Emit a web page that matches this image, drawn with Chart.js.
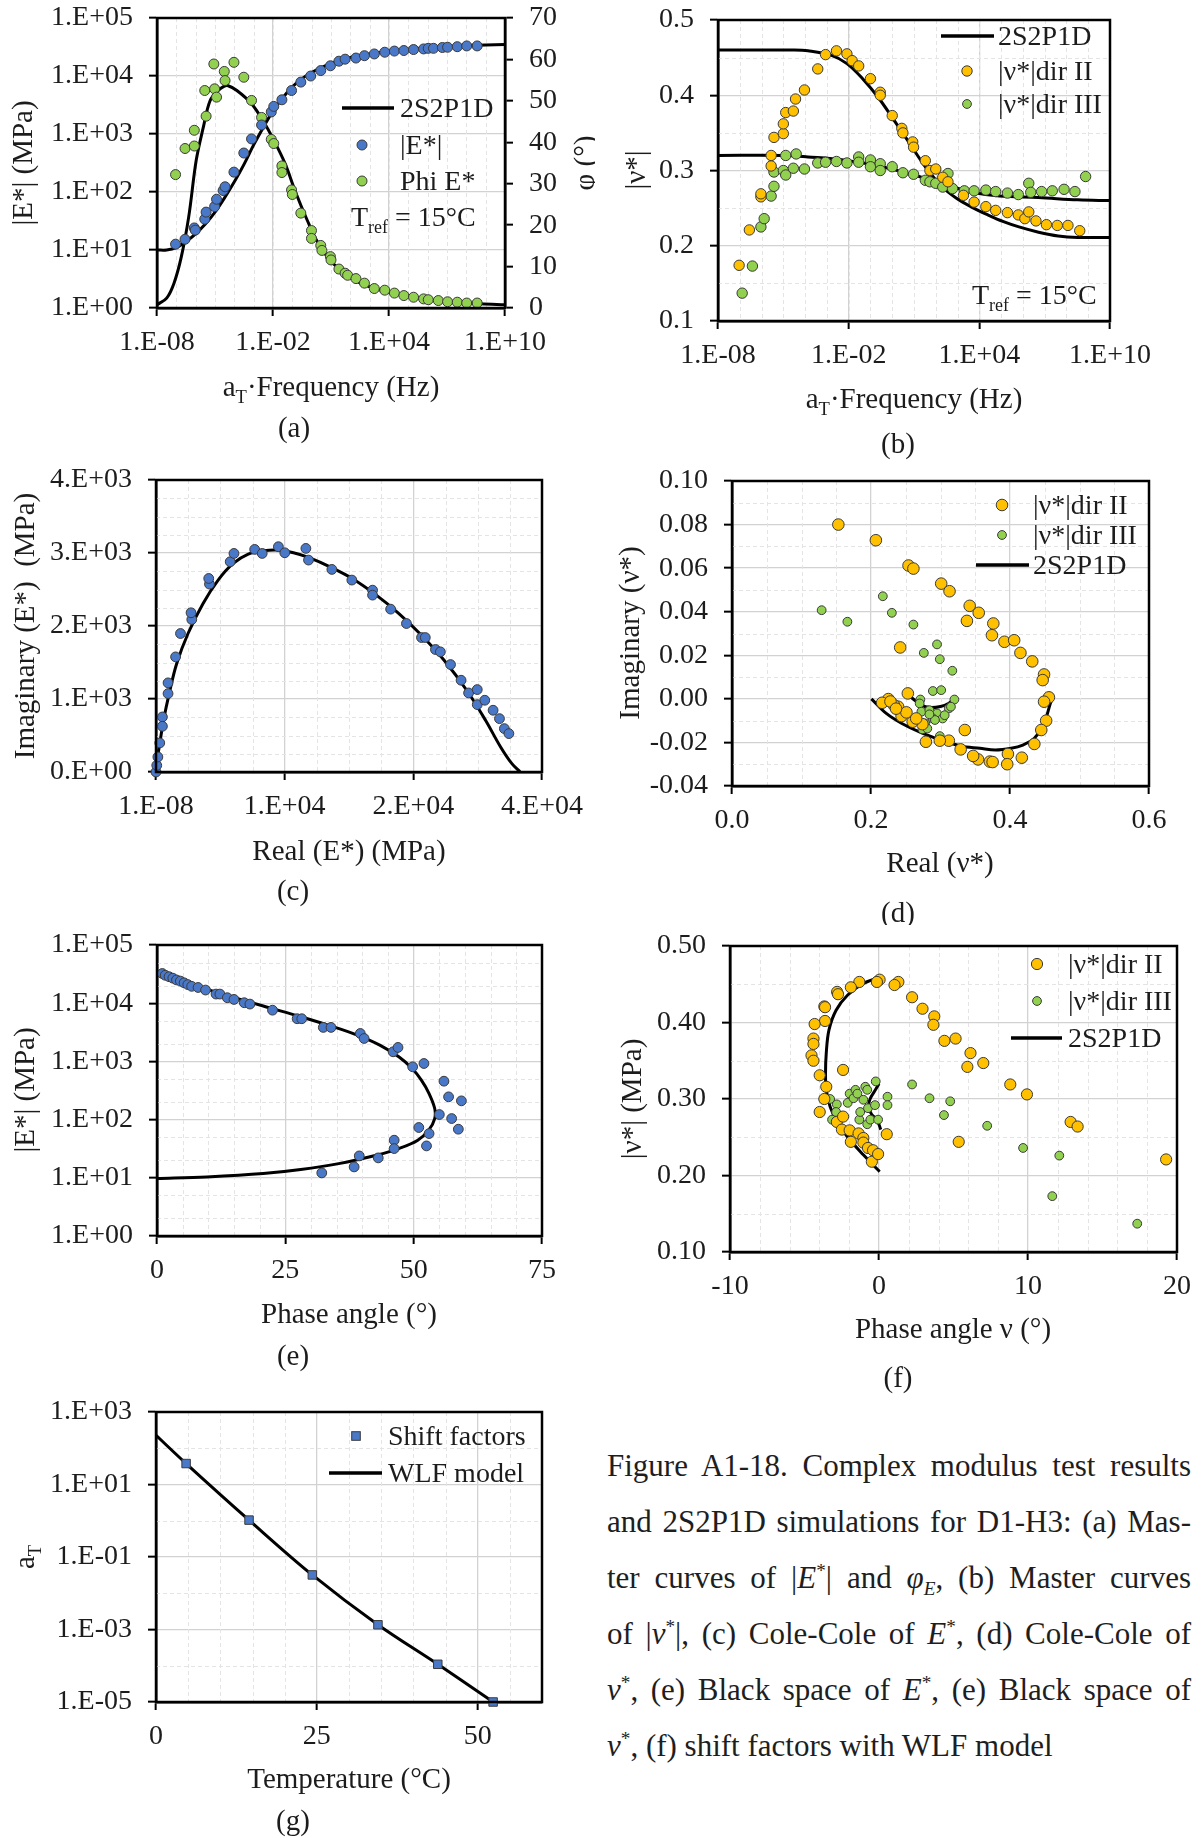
<!DOCTYPE html>
<html>
<head>
<meta charset="utf-8">
<title>Complex modulus test results – D1-H3</title>
<script src="https://cdn.jsdelivr.net/npm/chart.js@4.4.1/dist/chart.umd.min.js"></script>
<style>
  html, body { margin: 0; padding: 0; background: #fff; }
  body { width: 1202px; height: 1838px; position: relative; overflow: hidden;
         font-family: "Liberation Serif", "Times New Roman", serif; }
  canvas.panel { position: absolute; }
  #caption { position: absolute; left: 607px; top: 1438px; width: 584px;
             font-size: 31px; line-height: 56px; color: #1e1e1e; }
  #caption .j { text-align: justify; text-align-last: justify; }
  #caption sup, #caption sub { font-size: 62%; line-height: 0; }
</style>
</head>
<body>
<canvas id="pa" class="panel"></canvas>
<canvas id="pb" class="panel"></canvas>
<canvas id="pc" class="panel"></canvas>
<canvas id="pd" class="panel"></canvas>
<canvas id="pe" class="panel"></canvas>
<canvas id="pf" class="panel"></canvas>
<canvas id="pg" class="panel"></canvas>

<div id="caption">
  <div class="j">Figure A1-18. Complex modulus test results</div>
  <div class="j">and 2S2P1D simulations for D1-H3: (a) Mas-</div>
  <div class="j">ter curves of |<i>E</i><sup>*</sup>| and <i>φ<sub>E</sub></i>, (b) Master curves</div>
  <div class="j">of |<i>ν</i><sup>*</sup>|, (c) Cole-Cole of <i>E</i><sup>*</sup>, (d) Cole-Cole of</div>
  <div class="j"><i>ν</i><sup>*</sup>, (e) Black space of <i>E</i><sup>*</sup>, (e) Black space of</div>
  <div><i>ν</i><sup>*</sup>, (f) shift factors with WLF model</div>
</div>

<script>
// ---------------- data ----------------
// (a) master curves: frequencies stored as log10(aT·f)
const aModFreqExp = [-7.04,-6.55,-6.07,-6.02,-5.53,-5.46,-5.02,-4.92,-4.58,-4.48,-4.02,-3.51,-3.11,-2.59,-2.09,-1.96,-1.54,-1.04,-0.56,-0.05,0.47,0.97,1.41,1.73,2.29,2.73,3.24,3.78,4.28,4.77,5.27,5.79,6.03,6.30,6.76,7.03,7.53,8.02,8.56];
const aModVal = [12.6,15.3,24,22,34,45,56,75,106,123,220,470,822,1430,2400,2990,3890,5620,7850,10000,12400,15000,18000,19500,20400,22400,24000,25700,26900,27500,28600,29300,30000,30000,31000,31300,32000,33000,33000];
const aPhiFreqExp = [-7.04,-6.55,-6.07,-6.07,-5.46,-5.53,-5.02,-4.92,-5.06,-4.52,-4.48,-4.02,-3.51,-3.11,-2.59,-2.09,-1.96,-1.54,-1.54,-1.04,-1.0,-0.56,-0.01,-0.01,0.47,0.53,0.97,1.0,1.41,1.73,1.86,2.29,2.73,3.24,3.78,4.28,4.77,5.27,5.79,6.03,6.55,7.03,7.53,8.02,8.56];
const aPhiVal = [32.2,38.5,39.1,42.9,46.3,52.5,52.9,50.9,58.9,57.1,54.9,59.3,55.7,50.1,46.0,40.7,39.7,34.3,32.7,28.5,27.4,22.9,18.7,16.8,15.1,13.9,12.4,11.6,9.4,8.4,7.9,7.1,6.0,4.7,4.3,3.6,3.0,2.6,2.2,2.0,1.8,1.5,1.4,1.2,1.2];
const aFitFreqExp = [-8,-7.5,-7,-6.5,-6,-5.5,-5,-4.5,-4,-3.5,-3,-2.5,-2,-1.5,-1,-0.5,0,0.5,1,1.5,2,3,4,5,6,7,8,9,10];
const aFitMod = [10,10,11,14,19,28,45,80,150,300,650,1300,2500,4200,6500,9000,11500,14000,16500,18800,20800,24000,26800,29000,30800,32200,33400,34300,35000];
const aFitPhiFreqExp = [-8,-7.5,-7.12,-6.74,-6.36,-5.97,-5.6,-5.25,-4.83,-4.54,-4.35,-3.87,-3.11,-2.53,-1.96,-1.38,-0.81,-0.24,0.34,1.1,2.06,3.01,4.93,6.84,8.75,10];
const aFitPhi = [0.8,2.4,6,12.4,22,35.7,43.7,50.1,52.5,53.5,53.7,52.5,49.3,45.3,40.5,34.9,27.7,21.3,15.6,10.8,7.2,5.1,2.8,1.6,1.0,0.8];

// (b) master curves of |ν*|
const bDir2FreqExp = [-7.03,-6.56,-6.03,-6.03,-5.56,-5.56,-5.43,-5.0,-5.0,-4.89,-4.54,-4.44,-4.03,-3.42,-3.06,-2.56,-2.08,-1.84,-1.54,-1.0,-0.55,-0.55,0.0,0.44,0.49,0.94,0.98,1.52,1.73,2.0,2.32,2.56,3.27,3.76,4.3,4.75,5.29,5.79,6.09,6.27,6.6,7.08,7.58,8.07,8.61];
const bDir2Val = [0.174,0.221,0.265,0.269,0.320,0.306,0.344,0.349,0.362,0.377,0.379,0.395,0.407,0.435,0.454,0.459,0.455,0.446,0.439,0.422,0.404,0.400,0.373,0.356,0.350,0.338,0.331,0.313,0.300,0.302,0.291,0.285,0.267,0.258,0.252,0.247,0.244,0.241,0.236,0.245,0.233,0.228,0.227,0.227,0.220];
const bDir3FreqExp = [-6.89,-6.42,-6.03,-5.88,-5.56,-5.43,-5.43,-5.0,-4.89,-4.89,-4.54,-4.41,-4.03,-3.42,-3.06,-2.56,-2.08,-1.54,-1.54,-1.0,-1.0,-0.55,-0.55,0.0,0.49,0.98,1.52,1.73,2.0,2.32,2.56,2.77,3.31,3.76,4.3,4.75,5.29,5.79,6.27,6.36,6.86,7.35,7.89,8.39,8.88];
const bDir3Val = [0.137,0.173,0.225,0.236,0.266,0.279,0.298,0.300,0.294,0.320,0.303,0.322,0.302,0.310,0.311,0.312,0.310,0.318,0.311,0.314,0.305,0.309,0.300,0.305,0.297,0.295,0.287,0.285,0.283,0.278,0.296,0.276,0.273,0.273,0.274,0.272,0.270,0.268,0.283,0.271,0.272,0.273,0.275,0.272,0.292];
const bFit2FreqExp = [-8,-4.5,-3.87,-2.79,-2.08,-1.36,-0.64,0.08,0.8,1.52,2.23,2.95,3.67,4.39,5.11,5.82,6.72,7.62,8.52,10];
const bFit2Val = [0.460,0.460,0.459,0.453,0.442,0.422,0.397,0.367,0.336,0.305,0.280,0.263,0.251,0.241,0.232,0.225,0.218,0.213,0.211,0.211];
const bFit3FreqExp = [-8,-5,-3.87,-2.25,-0.46,1.34,2.59,3.67,4.93,6.72,8.52,10];
const bFit3Val = [0.320,0.320,0.318,0.314,0.305,0.291,0.280,0.271,0.266,0.264,0.261,0.260];

// (c) Cole-Cole plane of E*
const cReal = [0,70,175,351,597,597,1124,1124,1826,2283,3337,3267,4988,4917,6920,7271,9202,9905,11415,12012,13979,14225,16403,18265,20197,20197,21883,23358,24763,25115,26063,26520,27468,28452,29154,29962,29962,30664,31437,32034,32491,32912];
const cImag = [0,91,206,398,754,626,1074,1221,1577,1897,2089,2181,2574,2651,2880,2994,3049,2994,3086,3003,3063,2903,2775,2629,2491,2423,2231,2034,1842,1842,1678,1646,1472,1257,1083,1129,923,983,846,731,594,526];
const cFitReal = [0,105,351,703,1229,1932,2986,4391,5795,7200,8605,10010,11415,12820,14225,16333,18440,20547,22655,24762,26870,28977,30733,32138,33192,33965];
const cFitImag = [0,160,389,709,1074,1486,1897,2309,2629,2857,2985,3031,3040,3003,2939,2802,2638,2423,2171,1874,1531,1120,709,343,114,0];
const cTickX = ['1.E-08','1.E+04','2.E+04','4.E+04'];
const cTickY = ['0.E+00','1.E+03','2.E+03','3.E+03','4.E+03'];

// (d) Cole-Cole plane of ν*
const dDir2Real = [0.153,0.207,0.254,0.261,0.301,0.313,0.342,0.338,0.355,0.376,0.374,0.392,0.406,0.415,0.432,0.449,0.447,0.456,0.449,0.452,0.445,0.435,0.417,0.397,0.396,0.371,0.375,0.354,0.347,0.329,0.312,0.299,0.279,0.335,0.274,0.260,0.244,0.239,0.233,0.225,0.216,0.253,0.242,0.251,0.265,0.228,0.236];
const dDir2Imag = [0.080,0.0728,0.0612,0.0598,0.0529,0.0494,0.0427,0.0358,0.0395,0.0346,0.0292,0.0262,0.0269,0.0211,0.0172,0.0112,0.0086,0.0007,-0.0013,-0.010,-0.0143,-0.0207,-0.027,-0.0253,-0.030,-0.0288,-0.029,-0.0278,-0.0262,-0.0232,-0.0192,-0.0192,-0.0197,-0.0143,-0.0116,-0.0105,-0.0079,-0.0036,-0.0029,-0.0001,-0.0018,0.0025,0.0236,-0.0062,-0.009,-0.0012,-0.0045];
const dDir3Real = [0.129,0.166,0.217,0.230,0.261,0.276,0.295,0.299,0.317,0.289,0.301,0.271,0.320,0.270,0.2725,0.284,0.295,0.303,0.312,0.315,0.289,0.278,0.274,0.281,0.292,0.299,0.306,0.284];
const dDir3Imag = [0.0407,0.0354,0.0471,0.0395,0.0341,0.0211,0.0250,0.0182,0.0129,0.0036,0.0040,-0.0003,-0.0003,-0.0021,-0.0059,-0.0052,-0.0067,-0.009,-0.0044,-0.0036,-0.009,-0.0113,-0.014,-0.0136,-0.0097,-0.0171,-0.0075,-0.0071];
const dFit2Real = [0.2006,0.222,0.2444,0.272,0.3006,0.3287,0.3567,0.379,0.4017,0.4185,0.435,0.449,0.458,0.4607];
const dFit2Imag = [0.0,-0.0067,-0.0113,-0.0155,-0.0189,-0.0216,-0.0227,-0.0235,-0.0227,-0.0212,-0.0181,-0.0113,-0.0021,0.0];
const dFit3Real = [0.257,0.264,0.272,0.285,0.300,0.312,0.320];
const dFit3Imag = [0.0009,-0.0009,-0.0029,-0.0040,-0.0035,-0.0020,0.0];

// (e) Black space of E*
const ePhase = [1.03,1.6,2.35,3.08,3.8,4.55,5.28,6.0,6.75,8.0,9.46,11.5,12.25,13.7,15.0,17.0,18.1,22.5,27.3,28.2,32.4,33.9,39.6,40.35,46.0,46.95,49.8,52.0,55.9,56.8,59.3,55.0,57.4,58.7,51.0,53.0,52.5,46.2,46.2,43.1,39.4,38.4,32.1];
const eModExp = [4.51,4.48,4.455,4.43,4.40,4.38,4.35,4.32,4.29,4.27,4.226,4.157,4.157,4.094,4.065,4.008,3.985,3.88,3.733,3.733,3.584,3.584,3.48,3.394,3.165,3.24,2.907,2.964,2.66,2.391,2.322,2.087,2.018,1.835,1.864,1.76,1.548,1.646,1.502,1.342,1.376,1.187,1.084];
const eFitPhase = [0,9.7,20.7,28,35.4,42.7,47.1,50.8,53,54.1,54.1,53,51.5,49.7,47.1,43.4,39,33.9,28,20.7,13.4,6,1,0];
const eFitModExp = [0.986,1.015,1.072,1.141,1.244,1.388,1.502,1.646,1.829,2.018,2.19,2.448,2.678,2.878,3.079,3.28,3.452,3.607,3.767,3.951,4.14,4.34,4.5,4.54];

// (f) Black space of ν*
const fDir2Phase = [0.04,-0.14,1.3,1.04,-1.32,-1.89,-2.81,-2.75,-3.67,-3.62,-3.62,-4.32,-4.40,-4.40,-4.53,-4.40,-3.98,-3.54,-3.67,-3.98,-2.41,-2.83,-2.41,-2.49,-1.97,-1.89,-1.37,-1.05,-1.05,-0.74,-0.4,-0.48,-0.06,0.52,2.22,2.92,3.71,3.65,4.39,5.14,6.14,5.93,7.0,8.81,9.93,5.35,12.86,13.33,19.27];
const fDir2Val = [0.456,0.453,0.453,0.449,0.453,0.446,0.440,0.437,0.421,0.420,0.402,0.398,0.379,0.372,0.357,0.350,0.331,0.316,0.300,0.283,0.338,0.270,0.277,0.260,0.259,0.244,0.255,0.249,0.243,0.236,0.233,0.218,0.228,0.254,0.433,0.418,0.408,0.397,0.376,0.379,0.360,0.342,0.347,0.319,0.306,0.244,0.270,0.264,0.221];
const fDir3Phase = [-3.28,-3.15,-2.83,-2.88,-2.1,-1.97,-1.71,-1.58,-1.45,-1.32,-1.26,-1.05,-0.92,-0.79,-0.74,-0.79,-0.58,-0.27,-0.22,-0.06,0.57,0.57,2.22,3.39,4.78,4.36,7.26,9.67,11.63,12.1,17.33];
const fDir3Val = [0.300,0.273,0.293,0.283,0.295,0.307,0.301,0.312,0.307,0.273,0.283,0.299,0.316,0.312,0.288,0.267,0.273,0.292,0.323,0.273,0.303,0.292,0.319,0.301,0.297,0.279,0.265,0.236,0.173,0.226,0.137];
const fFit2Phase = [0.04,-1.05,-2.1,-2.88,-3.36,-3.54,-3.59,-3.54,-3.28,-2.75,-1.97,-1.05,-0.4,0.04];
const fFit2Val = [0.459,0.451,0.436,0.416,0.390,0.360,0.333,0.312,0.290,0.268,0.247,0.227,0.214,0.205];
const fFit3Phase = [0.0,-0.3,-0.6,-0.7,-0.5,-0.14,0.12];
const fFit3Val = [0.320,0.310,0.300,0.290,0.280,0.273,0.260];

// (g) shift factors and WLF model
const gTemp = [4.68,14.46,24.3,34.5,43.8,52.4];
const gShiftExp = [1.578,0.018,-1.495,-2.87,-3.96,-5.0];
const gWlfTemp = [0,4.68,14.46,24.3,34.5,43.8,52.4];
const gWlfExp = [2.358,1.578,0.018,-1.495,-2.87,-3.96,-5.0];

// ---------------- styling helpers ----------------
const FONT = '"Liberation Serif", "Times New Roman", serif';
const INK = '#1c1c1c';
const GRID = '#d2d2d2';
const BLUE = '#4a78c8', GREEN = '#92d050', ORANGE = '#ffc000', EDGE = '#3a3a3a';
const TICK_SIZE = 28, TEXT_SIZE = 29, LEGEND_SIZE = 28;
const Y_AXIS_W = 110, X_AXIS_H = 55, R_AXIS_W = 60;

const pow10 = arr => arr.map(e => Math.pow(10, e));
const pts = (xs, ys) => xs.map((x, i) => ({ x, y: ys[i] }));
const sci = v => {
  const e = Math.round(Math.log10(v));
  return '1.E' + (e < 0 ? '-' : '+') + String(Math.abs(e)).padStart(2, '0');
};
const fixedTicks = vals => s => { s.ticks = vals.map(v => ({ value: v })); };

function markers(data, color, r, order = 1) {
  return { type: 'scatter', data, order, pointRadius: r, pointHoverRadius: r, clip: 8,
           backgroundColor: color, borderColor: EDGE, borderWidth: 1, showLine: false };
}
function curve(data, order = 2, width = 3) {
  return { type: 'scatter', data, order, showLine: true, pointRadius: 0, pointHoverRadius: 0,
           borderColor: '#000', borderWidth: width, tension: 0.35, fill: false };
}

function axis(position, opts = {}) {
  const horiz = position === 'bottom';
  const o = {
    position,
    grid: { color: GRID, lineWidth: 1.3, drawTicks: true, tickLength: 8, tickColor: '#000', tickWidth: 2,
            drawOnChartArea: opts.gridOnArea !== false },
    border: { display: true, color: '#000', width: 2.5 },
    ticks: { color: INK, font: { family: FONT, size: TICK_SIZE }, padding: horiz ? 10 : 16,
             maxRotation: 0, minRotation: 0, autoSkip: false },
    // fixed axis box; no extra edge padding so the plot area stays where the layout puts it
    afterFit: s => {
      if (horiz) s.height = X_AXIS_H; else s.width = position === 'right' ? R_AXIS_W : Y_AXIS_W;
      s.paddingTop = 0; s.paddingBottom = 0; s.paddingLeft = 0; s.paddingRight = 0;
    }
  };
  ['type', 'min', 'max', 'afterBuildTicks', 'weight'].forEach(k => { if (opts[k] !== undefined) o[k] = opts[k]; });
  if (opts.step !== undefined) o.ticks.stepSize = opts.step;
  if (opts.callback) o.ticks.callback = opts.callback;
  return o;
}

// rich text: runs of [text, style]; style may contain 'sub', 'sup', 'i'
function drawRich(ctx, runs, x, y, opt = {}) {
  const size = opt.size || TEXT_SIZE;
  ctx.save();
  ctx.translate(x, y);
  if (opt.rot) ctx.rotate(opt.rot);
  const parts = runs.map(r => {
    const [t, s = ''] = Array.isArray(r) ? r : [r, ''];
    const small = s.includes('sub') || s.includes('sup');
    const fs = small ? size * 0.64 : size;
    const font = (s.includes('i') ? 'italic ' : '') + fs + 'px ' + FONT;
    ctx.font = font;
    return { t, font, w: ctx.measureText(t).width,
             dy: s.includes('sub') ? size * 0.25 : s.includes('sup') ? -size * 0.35 : 0 };
  });
  const total = parts.reduce((a, p) => a + p.w, 0);
  let cx = opt.align === 'left' ? 0 : opt.align === 'right' ? -total : -total / 2;
  ctx.fillStyle = opt.color || INK;
  ctx.textBaseline = 'alphabetic';
  parts.forEach(p => { ctx.font = p.font; ctx.fillText(p.t, cx, size * 0.33 + p.dy); cx += p.w; });
  ctx.restore();
}

// frame, minor grid, titles and hand-placed legends
const decor = {
  id: 'decor',
  beforeDatasetsDraw(chart, args, cfg) {
    if (!cfg || !cfg.minor) return;
    const { ctx, chartArea: a } = chart;
    ctx.save();
    ctx.beginPath(); ctx.rect(a.left, a.top, a.right - a.left, a.bottom - a.top); ctx.clip();
    ctx.strokeStyle = '#e4e4e4'; ctx.lineWidth = 1; ctx.setLineDash([4, 3]);
    const xs = chart.scales.x, ys = chart.scales.y;
    (cfg.minor.x || []).forEach(v => {
      const px = Math.round(xs.getPixelForValue(v)) + 0.5;
      ctx.beginPath(); ctx.moveTo(px, a.top); ctx.lineTo(px, a.bottom); ctx.stroke();
    });
    (cfg.minor.y || []).forEach(v => {
      const py = Math.round(ys.getPixelForValue(v)) + 0.5;
      ctx.beginPath(); ctx.moveTo(a.left, py); ctx.lineTo(a.right, py); ctx.stroke();
    });
    ctx.restore();
  },
  afterDraw(chart, args, cfg) {
    if (!cfg) return;
    const { ctx, chartArea: a } = chart;
    const ox = cfg.ox || 0, oy = cfg.oy || 0;
    ctx.save();
    ctx.strokeStyle = '#000'; ctx.lineWidth = 2.5;
    ctx.strokeRect(a.left, a.top, a.right - a.left, a.bottom - a.top);
    ctx.restore();
    (cfg.legend || []).forEach(it => {
      ctx.save();
      const y = it.y - oy;
      if (it.kind === 'line') {
        ctx.strokeStyle = '#000'; ctx.lineWidth = 3.5;
        ctx.beginPath(); ctx.moveTo(it.x1 - ox, y); ctx.lineTo(it.x2 - ox, y); ctx.stroke();
      } else if (it.kind === 'circle') {
        ctx.fillStyle = it.color; ctx.strokeStyle = EDGE; ctx.lineWidth = 1;
        ctx.beginPath(); ctx.arc(it.x - ox, y, it.r, 0, Math.PI * 2); ctx.fill(); ctx.stroke();
      } else if (it.kind === 'square') {
        ctx.fillStyle = it.color; ctx.strokeStyle = EDGE; ctx.lineWidth = 1;
        ctx.fillRect(it.x - ox - it.r, y - it.r, it.r * 2, it.r * 2);
        ctx.strokeRect(it.x - ox - it.r, y - it.r, it.r * 2, it.r * 2);
      }
      ctx.restore();
      if (it.text) drawRich(ctx, it.text, it.tx - ox, y, { align: 'left', size: it.size || LEGEND_SIZE });
    });
    (cfg.texts || []).forEach(t => {
      drawRich(ctx, t.runs, t.x - ox, t.y - oy, { align: t.align || 'center', rot: t.rot, size: t.size });
    });
  }
};
Chart.register(decor);

// builds one panel so that its plot area lands on the given page rectangle
function panel(id, rect, area, scales, datasets, deco, hasRight = false) {
  const cv = document.getElementById(id);
  cv.width = rect.w; cv.height = rect.h;
  cv.style.left = rect.x + 'px'; cv.style.top = rect.y + 'px';
  cv.style.width = rect.w + 'px'; cv.style.height = rect.h + 'px';
  const padding = {
    left: area.l - rect.x - Y_AXIS_W,
    top: area.t - rect.y,
    right: rect.x + rect.w - area.r - (hasRight ? R_AXIS_W : 0),
    bottom: rect.y + rect.h - area.b - X_AXIS_H
  };
  deco.ox = rect.x; deco.oy = rect.y;
  return new Chart(cv, {
    type: 'scatter',
    data: { datasets },
    options: {
      responsive: false, animation: false, devicePixelRatio: 1,
      layout: { padding, autoPadding: false },
      scales,
      plugins: { legend: { display: false }, tooltip: { enabled: false }, decor: deco }
    }
  });
}

const LEFT = { x: 0, w: 595 }, RIGHT = { x: 595, w: 607 };
const ROT = -Math.PI / 2;
const freqTitle = [['a'], ['T', 'sub'], ['·Frequency (Hz)']];
const tref = [['T'], ['ref', 'sub'], [' = 15°C']];
const dir2 = [['|ν*|dir II']], dir3 = [['|ν*|dir III']];
const decades = (a, b) => { const r = []; for (let e = a; e <= b; e++) r.push(Math.pow(10, e)); return r; };

// ---------------- (a) ----------------
panel('pa', { x: LEFT.x, y: 0, w: LEFT.w, h: 460 }, { l: 157, t: 18, r: 505, b: 308 }, {
  x: axis('bottom', { type: 'logarithmic', min: 1e-8, max: 1e10,
    afterBuildTicks: fixedTicks([1e-8, 1e-2, 1e4, 1e10]), callback: v => sci(v) }),
  y: axis('left', { type: 'logarithmic', min: 1, max: 1e5,
    afterBuildTicks: fixedTicks(decades(0, 5)), callback: v => sci(v) }),
  yPhi: axis('right', { type: 'linear', min: 0, max: 70, step: 10, gridOnArea: false })
}, [
  Object.assign(markers(pts(pow10(aModFreqExp), aModVal), BLUE, 5), { yAxisID: 'y' }),
  Object.assign(markers(pts(pow10(aPhiFreqExp), aPhiVal), GREEN, 5), { yAxisID: 'yPhi' }),
  Object.assign(curve(pts(pow10(aFitFreqExp), aFitMod)), { yAxisID: 'y' }),
  Object.assign(curve(pts(pow10(aFitPhiFreqExp), aFitPhi)), { yAxisID: 'yPhi' })
], {
  minor: { x: decades(-8, 10), y: [] },
  legend: [
    { kind: 'line', x1: 342, x2: 394, y: 108, tx: 400, text: [['2S2P1D']] },
    { kind: 'circle', x: 362, y: 145, r: 5, color: BLUE, tx: 400, text: [['|E*|']] },
    { kind: 'circle', x: 362, y: 181, r: 5, color: GREEN, tx: 400, text: [['Phi E*']] },
    { kind: 'none', y: 217, tx: 351, text: tref }
  ],
  texts: [
    { runs: [['|E*| (MPa)']], x: 22, y: 163, rot: ROT },
    { runs: [['φ (°)']], x: 584, y: 163, rot: ROT },
    { runs: freqTitle, x: 331, y: 386 },
    { runs: [['(a)']], x: 294, y: 427 }
  ]
}, true);

// ---------------- (b) ----------------
panel('pb', { x: RIGHT.x, y: 0, w: RIGHT.w, h: 460 }, { l: 718, t: 20, r: 1110, b: 321 }, {
  x: axis('bottom', { type: 'logarithmic', min: 1e-8, max: 1e10,
    afterBuildTicks: fixedTicks([1e-8, 1e-2, 1e4, 1e10]), callback: v => sci(v) }),
  y: axis('left', { type: 'linear', min: 0.1, max: 0.5, step: 0.1, callback: v => v.toFixed(1) })
}, [
  markers(pts(pow10(bDir2FreqExp), bDir2Val), ORANGE, 5.2),
  markers(pts(pow10(bDir3FreqExp), bDir3Val), GREEN, 5.2),
  curve(pts(pow10(bFit2FreqExp), bFit2Val)),
  curve(pts(pow10(bFit3FreqExp), bFit3Val))
], {
  minor: { x: decades(-8, 10), y: [0.15, 0.25, 0.35, 0.45] },
  legend: [
    { kind: 'line', x1: 941, x2: 994, y: 36, tx: 998, text: [['2S2P1D']] },
    { kind: 'circle', x: 967, y: 71, r: 5.2, color: ORANGE, tx: 998, text: dir2 },
    { kind: 'circle', x: 967, y: 104, r: 4.4, color: GREEN, tx: 998, text: dir3 },
    { kind: 'none', y: 295, tx: 972, text: tref }
  ],
  texts: [
    { runs: [['|ν*|']], x: 635, y: 170, rot: ROT },
    { runs: freqTitle, x: 914, y: 398 },
    { runs: [['(b)']], x: 898, y: 443 }
  ]
});

// ---------------- (c) ----------------
panel('pc', { x: LEFT.x, y: 460, w: LEFT.w, h: 465 }, { l: 156, t: 480, r: 542, b: 772 }, {
  x: axis('bottom', { type: 'linear', min: 0, max: 36000, step: 12000, callback: (v, i) => cTickX[i] }),
  y: axis('left', { type: 'linear', min: 0, max: 4000, step: 1000, callback: (v, i) => cTickY[i] })
}, [
  markers(pts(cReal, cImag), BLUE, 4.9),
  curve(pts(cFitReal, cFitImag))
], {
  minor: { x: [3000, 6000, 9000, 15000, 18000, 21000, 27000, 30000, 33000], y: [250, 500, 750, 1250, 1500, 1750, 2250, 2500, 2750, 3250, 3500, 3750] },
  texts: [
    { runs: [['Imaginary (E*)  (MPa)']], x: 24, y: 626, rot: ROT },
    { runs: [['Real (E*) (MPa)']], x: 349, y: 850 },
    { runs: [['(c)']], x: 293, y: 890 }
  ]
});

// ---------------- (d) ----------------
panel('pd', { x: RIGHT.x, y: 460, w: RIGHT.w, h: 465 }, { l: 732, t: 481, r: 1149, b: 786 }, {
  x: axis('bottom', { type: 'linear', min: 0, max: 0.6, step: 0.2, callback: v => v.toFixed(1) }),
  y: axis('left', { type: 'linear', min: -0.04, max: 0.10, step: 0.02, callback: v => v.toFixed(2) })
}, [
  markers(pts(dDir2Real, dDir2Imag), ORANGE, 5.8),
  markers(pts(dDir3Real, dDir3Imag), GREEN, 4.4),
  curve(pts(dFit2Real, dFit2Imag)),
  curve(pts(dFit3Real, dFit3Imag))
], {
  minor: { x: [0.05, 0.1, 0.15, 0.25, 0.3, 0.35, 0.45, 0.5, 0.55], y: [-0.03, -0.01, 0.01, 0.03, 0.05, 0.07, 0.09] },
  legend: [
    { kind: 'circle', x: 1002, y: 505, r: 5.8, color: ORANGE, tx: 1033, text: dir2 },
    { kind: 'circle', x: 1002, y: 535, r: 4.4, color: GREEN, tx: 1033, text: dir3 },
    { kind: 'line', x1: 976, x2: 1029, y: 565, tx: 1033, text: [['2S2P1D']] }
  ],
  texts: [
    { runs: [['Imaginary (ν*)']], x: 629, y: 633, rot: ROT },
    { runs: [['Real (ν*)']], x: 940, y: 862 },
    { runs: [['(d)']], x: 898, y: 912 }
  ]
});

// ---------------- (e) ----------------
panel('pe', { x: LEFT.x, y: 925, w: LEFT.w, h: 470 }, { l: 157, t: 945, r: 542, b: 1236 }, {
  x: axis('bottom', { type: 'linear', min: 0, max: 75, step: 25 }),
  y: axis('left', { type: 'logarithmic', min: 1, max: 1e5,
    afterBuildTicks: fixedTicks(decades(0, 5)), callback: v => sci(v) })
}, [
  markers(pts(ePhase, pow10(eModExp)), BLUE, 4.9),
  curve(pts(eFitPhase, pow10(eFitModExp)))
], {
  minor: { x: [5, 10, 15, 20, 30, 35, 40, 45, 55, 60, 65, 70], y: [2, 5, 20, 50, 200, 500, 2000, 5000, 20000, 50000] },
  texts: [
    { runs: [['|E*| (MPa)']], x: 24, y: 1090, rot: ROT },
    { runs: [['Phase angle (°)']], x: 349, y: 1313 },
    { runs: [['(e)']], x: 293, y: 1355 }
  ]
});

// ---------------- (f) ----------------
panel('pf', { x: RIGHT.x, y: 925, w: RIGHT.w, h: 470 }, { l: 730, t: 946, r: 1177, b: 1252 }, {
  x: axis('bottom', { type: 'linear', min: -10, max: 20, step: 10 }),
  y: axis('left', { type: 'linear', min: 0.1, max: 0.5, step: 0.1, callback: v => v.toFixed(2) })
}, [
  markers(pts(fDir2Phase, fDir2Val), ORANGE, 5.6),
  markers(pts(fDir3Phase, fDir3Val), GREEN, 4.4),
  curve(pts(fFit2Phase, fFit2Val)),
  curve(pts(fFit3Phase, fFit3Val))
], {
  minor: { x: [-8, -6, -4, -2, 2, 4, 6, 8, 12, 14, 16, 18], y: [0.15, 0.25, 0.35, 0.45] },
  legend: [
    { kind: 'circle', x: 1037, y: 964, r: 5.6, color: ORANGE, tx: 1068, text: dir2 },
    { kind: 'circle', x: 1037, y: 1001, r: 4.4, color: GREEN, tx: 1068, text: dir3 },
    { kind: 'line', x1: 1011, x2: 1062, y: 1038, tx: 1068, text: [['2S2P1D']] }
  ],
  texts: [
    { runs: [['|ν*| (MPa)']], x: 631, y: 1099, rot: ROT },
    { runs: [['Phase angle ν (°)']], x: 953, y: 1328 },
    { runs: [['(f)']], x: 898, y: 1377 }
  ]
});

// ---------------- (g) ----------------
panel('pg', { x: LEFT.x, y: 1395, w: LEFT.w, h: 443 }, { l: 156, t: 1412, r: 542, b: 1702 }, {
  x: axis('bottom', { type: 'linear', min: 0, max: 60, afterBuildTicks: fixedTicks([0, 25, 50]) }),
  y: axis('left', { type: 'logarithmic', min: 1e-5, max: 1e3,
    afterBuildTicks: fixedTicks([1e-5, 1e-3, 1e-1, 1e1, 1e3]), callback: v => sci(v) })
}, [
  Object.assign(markers(pts(gTemp, pow10(gShiftExp)), BLUE, 6), { pointStyle: 'rect', clip: false }),
  curve(pts(gWlfTemp, pow10(gWlfExp)), 2, 3)
], {
  minor: { x: [5, 10, 15, 20, 30, 35, 40, 45, 55], y: decades(-4, 2).filter((v, i) => i % 2 === 0) },
  legend: [
    { kind: 'square', x: 356, y: 1436, r: 4.3, color: BLUE, tx: 388, text: [['Shift factors']] },
    { kind: 'line', x1: 329, x2: 382, y: 1473, tx: 388, text: [['WLF model']] }
  ],
  texts: [
    { runs: [['a'], ['T', 'sub']], x: 24, y: 1557, rot: ROT },
    { runs: [['Temperature (°C)']], x: 349, y: 1778 },
    { runs: [['(g)']], x: 293, y: 1820 }
  ]
});
</script>
</body>
</html>
